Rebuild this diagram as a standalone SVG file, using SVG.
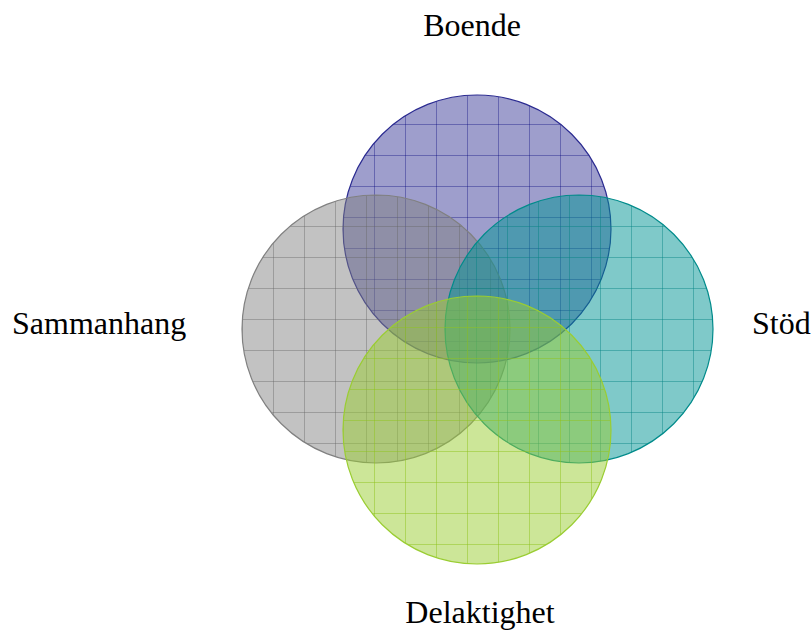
<svg xmlns="http://www.w3.org/2000/svg" width="811" height="631" viewBox="0 0 811 631">
<style>
.lbl{font-family:"Liberation Serif","Times New Roman",serif;font-size:32px;fill:#000}
.c{stroke-width:1.2}
</style>
<defs>
<pattern id="pb" patternUnits="userSpaceOnUse" x="343" y="93" width="31" height="31">
<rect width="31" height="31" fill="#00007a" fill-opacity="0.38"/>
<path d="M0 0V31M0 0H31" stroke="#00007a" stroke-opacity="0.7" stroke-width="1"/>
</pattern>
<pattern id="ps" patternUnits="userSpaceOnUse" x="242" y="195" width="31" height="31">
<rect width="31" height="31" fill="#808080" fill-opacity="0.48"/>
<path d="M0 0V31M0 0H31" stroke="#606060" stroke-opacity="0.8" stroke-width="1"/>
</pattern>
<pattern id="pt" patternUnits="userSpaceOnUse" x="445" y="195" width="31" height="31">
<rect width="31" height="31" fill="#009494" fill-opacity="0.5"/>
<path d="M0 0V31M0 0H31" stroke="#008080" stroke-opacity="0.85" stroke-width="1"/>
</pattern>
<pattern id="pd" patternUnits="userSpaceOnUse" x="343" y="296" width="31" height="31">
<rect width="31" height="31" fill="#9acd32" fill-opacity="0.5"/>
<path d="M0 0V31M0 0H31" stroke="#8ec21e" stroke-opacity="1" stroke-width="1"/>
</pattern>
</defs>
<g id="boende">
<circle class="c" cx="477" cy="229" r="134" fill="url(#pb)" stroke="#2a2a90"/>
<text class="lbl" x="472" y="36" text-anchor="middle">Boende</text>
</g>
<g id="sammanhang">
<circle class="c" cx="376" cy="329" r="134" fill="url(#ps)" stroke="#808080"/>
<text class="lbl" x="12" y="334">Sammanhang</text>
</g>
<g id="stod">
<circle class="c" cx="579" cy="329" r="134" fill="url(#pt)" stroke="#008b8b"/>
<text class="lbl" x="752" y="334">Stöd</text>
</g>
<g id="delaktighet">
<circle class="c" cx="477" cy="430" r="134" fill="url(#pd)" stroke="#9acd32"/>
<text class="lbl" x="480" y="623" text-anchor="middle">Delaktighet</text>
</g>
<g id="connectors"/>
</svg>
